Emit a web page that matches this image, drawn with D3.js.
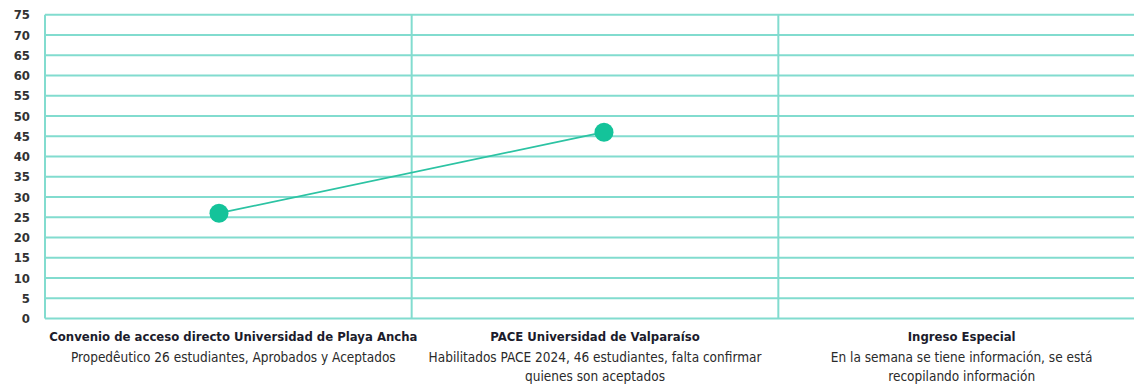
<!DOCTYPE html>
<html><head><meta charset="utf-8">
<script src="https://cdn.jsdelivr.net/npm/d3@7"></script>
<style>
body{margin:0;background:#fff;}
text{font-family:"DejaVu Sans Condensed","DejaVu Sans",sans-serif;}
</style></head><body>
<svg id="c" width="1134" height="384"></svg>
<script>
const categories = ["Convenio de acceso directo Universidad de Playa Ancha","PACE Universidad de Valparaíso","Ingreso Especial"];
const subtitles = [["Propedêutico 26 estudiantes, Aprobados y Aceptados"],["Habilitados PACE 2024, 46 estudiantes, falta confirmar","quienes son aceptados"],["En la semana se tiene información, se está","recopilando información"]];
const values = [26, 46, null];
const yTicks = [0,5,10,15,20,25,30,35,40,45,50,55,60,65,70,75];

const svg = d3.select("#c");
const mLeft = 45, mRight = 1145, mTop = 14.7, mBottom = 318.5;
const x = d3.scaleBand().domain(categories).range([mLeft, mRight]);
// marker positions (the reference places markers slightly off the band centres)
const xp = d3.scalePoint().domain(categories).range([mLeft + 174, mLeft + 944]);
const y = d3.scaleLinear().domain([0, 75]).range([mBottom, mTop]);
const grid = "#82dccf";

// horizontal grid
svg.append("g").selectAll("line").data(yTicks).join("line")
  .attr("x1", mLeft).attr("x2", 1134)
  .attr("y1", d => y(d)).attr("y2", d => y(d))
  .attr("stroke", grid).attr("stroke-width", 2);
// vertical dividers
const bounds = [mLeft].concat(categories.map(c => x(c) + x.bandwidth()));
svg.append("g").selectAll("line").data(bounds).join("line")
  .attr("x1", d => d).attr("x2", d => d)
  .attr("y1", y(75)).attr("y2", y(0))
  .attr("stroke", grid).attr("stroke-width", 2);

// y axis labels
const yAxis = d3.axisLeft(y).tickValues(yTicks).tickSize(0).tickPadding(0);
const ga = svg.append("g").attr("transform", `translate(30,0)`).call(yAxis);
ga.select(".domain").remove();
ga.selectAll("text").attr("font-size", 13).attr("fill", "#333").attr("font-weight", "bold")
  .attr("font-family", "'DejaVu Sans Condensed',sans-serif");

// line + points
const pts = categories.map((c,i)=>({c, v: values[i]})).filter(d => d.v != null);
const cx = d => xp(d.c);
svg.append("path").datum(pts)
  .attr("d", d3.line().x(cx).y(d => y(d.v)))
  .attr("fill", "none").attr("stroke", "#2cc3a3").attr("stroke-width", 1.8);
svg.append("g").selectAll("circle").data(pts).join("circle")
  .attr("cx", cx).attr("cy", d => y(d.v)).attr("r", 9.5).attr("fill", "#14c39a");

// category labels
const lab = svg.append("g").selectAll("g").data(categories).join("g")
  .attr("transform", d => `translate(${x(d) + x.bandwidth()/2 - (d===categories[0]?-5:0)},0)`);
lab.append("text").attr("y", 341).attr("text-anchor", "middle")
  .attr("font-size", 13).attr("font-weight", "bold").attr("fill", "#1c1c2c").text(d => d);
lab.each(function(d, i){
  d3.select(this).selectAll("text.sub").data(subtitles[i]).join("text").attr("class","sub")
    .attr("y", (s, j) => 362 + j*18.5).attr("text-anchor", "middle")
    .attr("font-size", 13.5).attr("fill", "#2a2a2a").text(s => s);
});
</script></body></html>
